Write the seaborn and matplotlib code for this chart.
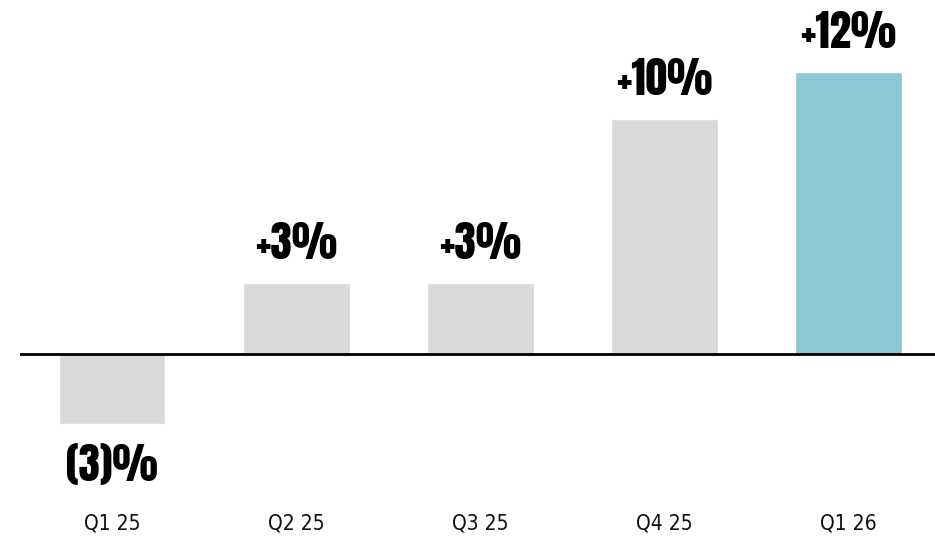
import matplotlib
matplotlib.use("Agg")
import matplotlib.pyplot as plt
import seaborn as sns
import pandas as pd

# Quarterly growth figures
quarters = ["Q1 25", "Q2 25", "Q3 25", "Q4 25", "Q1 26"]
growth = [-3, 3, 3, 10, 12]
value_labels = ["(3)%", "+3%", "+3%", "+10%", "+12%"]
highlight = [False, False, False, False, True]

GREY = "#D9D9D9"
BLUE = "#8CC7D6"

sns.set_theme(style="white")
plt.rcParams["font.family"] = ["DejaVu Sans"]

VALUE_FONT = ["Anton", "Barlow Condensed", "DejaVu Sans"]

df = pd.DataFrame({"quarter": quarters, "growth": growth,
                   "kind": ["now" if h else "past" for h in highlight]})

fig = plt.figure(figsize=(9.35, 5.37), dpi=100)
ax = fig.add_axes([20 / 935, 0, 915 / 935, 1])

sns.barplot(data=df, x="quarter", y="growth", hue="kind",
            palette={"past": GREY, "now": BLUE}, dodge=False,
            width=0.58, legend=False, ax=ax, saturation=1)

ax.set_xlim(-0.5, 4.47)
ax.set_ylim(-7.79, 15.06)
ax.axhline(0, color="black", lw=2, zorder=3)

for i, (v, lab) in enumerate(zip(growth, value_labels)):
    if v >= 0:
        ax.annotate(lab, (i, v), xytext=(0, 17.5), textcoords="offset points",
                    ha="center", va="baseline", fontsize=31,
                    family=VALUE_FONT, color="black")
    else:
        ax.annotate(lab, (i, v), xytext=(0, -14), textcoords="offset points",
                    ha="center", va="top", fontsize=31,
                    family=VALUE_FONT, color="black")
    ax.text(i, -7.2, quarters[i], ha="center", va="center", fontsize=15,
            fontstretch="condensed", color="#111111")

ax.set_xlabel("")
ax.set_ylabel("")
ax.set_xticks([])
ax.set_yticks([])
for s in ax.spines.values():
    s.set_visible(False)

fig.savefig("out.png", dpi=100, facecolor="white")
